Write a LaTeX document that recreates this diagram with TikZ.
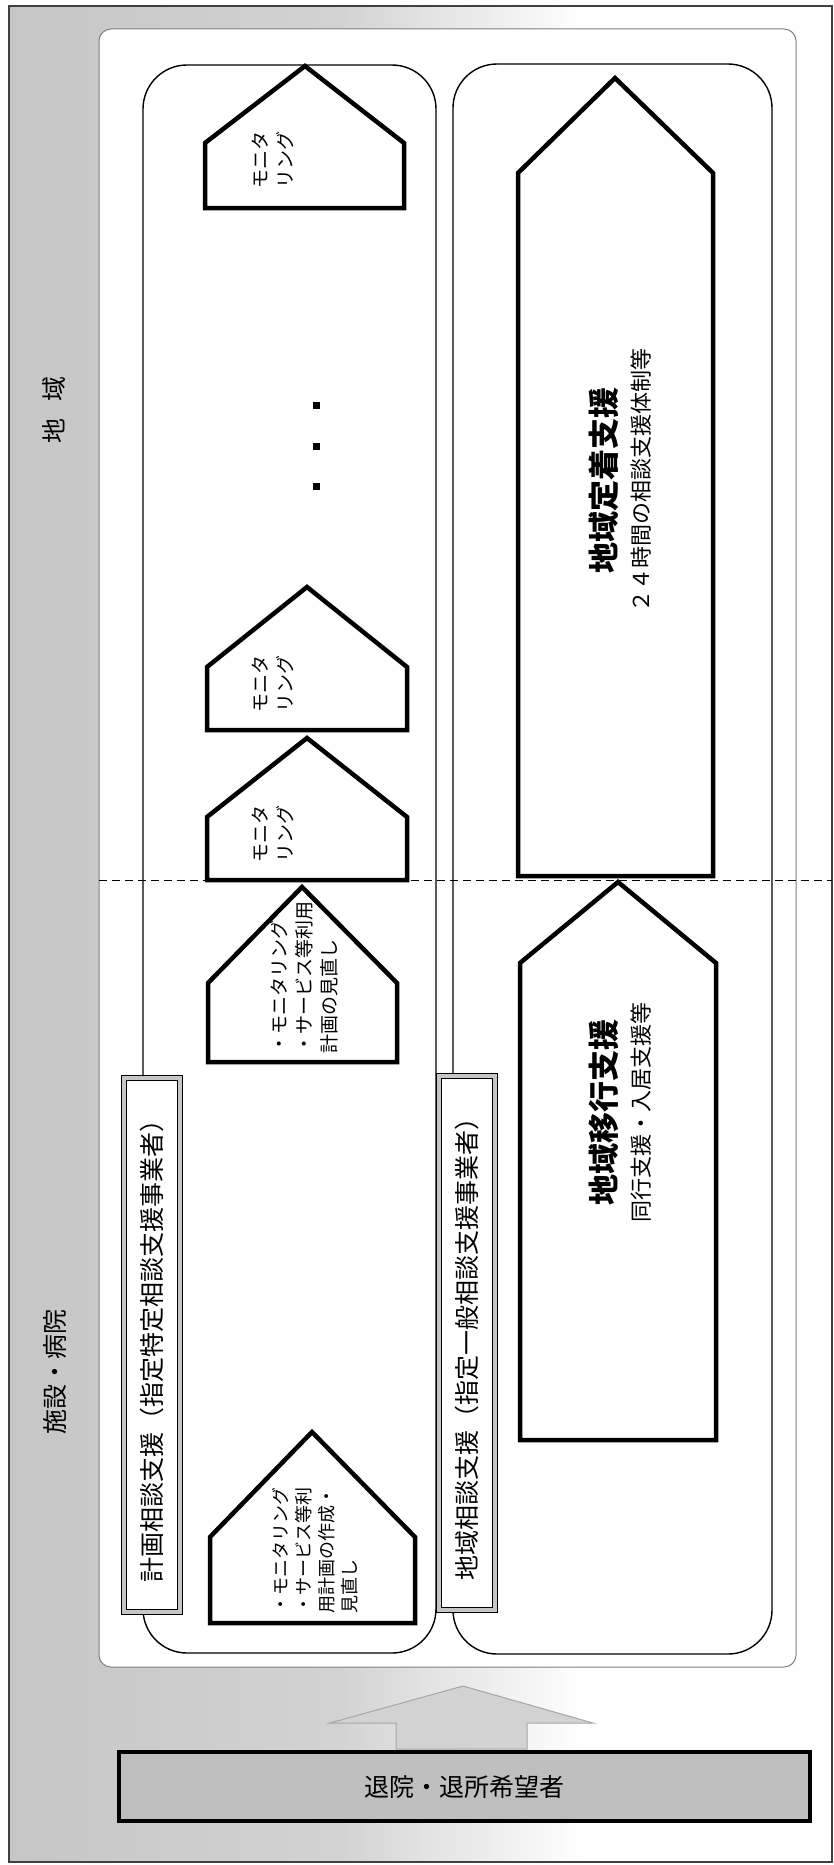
\documentclass[tikz,border=0pt]{standalone}
\usepackage{fontspec}
\setmainfont{Noto Sans CJK JP}
\usetikzlibrary{positioning}

\pgfdeclarehorizontalshading{fade}{100bp}{color(0bp)=(gray!45); color(25bp)=(gray!45); color(45bp)=(gray!35); color(60bp)=(white); color(100bp)=(white)}

\tikzset{
  lane/.style={draw, line width=1.4pt, rounded corners=44pt, fill=white},
  plate/.style={draw, line width=4.5pt, fill=white, line join=miter},
  tag/.style={draw, line width=1pt, double=gray!45, double distance=4pt, fill=white, rotate=90,
    minimum width=534pt, minimum height=56pt, font=\fontsize{25}{28}\selectfont},
  note/.style={rotate=90, align=left, font=\fontsize{19}{25}\selectfont},
  big/.style={rotate=90, align=center, font=\fontsize{22}{34}\selectfont},
  side/.style={rotate=90, font=\fontsize{25}{28}\selectfont},
  divider/.style={line width=1pt, dash pattern=on 8pt off 5pt},
}

\begin{document}
\begin{tikzpicture}[x=1pt,y=-1pt]
\useasboundingbox (0,0) rectangle (834,1865);

% background
\shadedraw[shading=fade, draw=black!75, line width=2pt] (9,6) rectangle (832,1862);
\node[draw=gray, line width=1pt, fill=white, rounded corners=12pt,
      minimum width=697pt, minimum height=1638pt] (region) at (447.5,848) {};

\node[side] (community) at (54,410) {地\hspace{0.7em}域};
\node[side] (facility) at (55,1372) {施設・病院};

% lanes
\node[lane, minimum width=293pt, minimum height=1588pt] (planlane) at (289.5,859) {};
\node[lane, minimum width=319pt, minimum height=1590pt] (arealane) at (612.5,859) {};

\draw[divider] (region.west |- 0,880) -- (832,880);

% plan lane
\draw[plate] (205,208) -- (205,143) -- (305,66) -- (404,143) -- (404,208) -- cycle;
\draw[plate] (207,730) -- (207,667) -- (307,587) -- (407,667) -- (407,730) -- cycle;
\draw[plate] (207,880) -- (207,817) -- (307,738) -- (407,817) -- (407,880) -- cycle;
\draw[plate] (208,1062) -- (208,983) -- (302,887) -- (397,983) -- (397,1062) -- cycle;
\draw[plate] (210,1623) -- (210,1537) -- (312,1432) -- (415,1537) -- (415,1623) -- cycle;

\node[note] (mon1) at (273,160) {モニタ\\リング};
\node[note] (mon2) at (273,684) {モニタ\\リング};
\node[note] (mon3) at (273,834) {モニタ\\リング};
\node[note, anchor=west] (review) at (304,1057) {・モニタリング\\・サービス等利用\\計画の見直し};
\node[note, anchor=west, font=\fontsize{18}{23}\selectfont] (draft) at (315,1617)
  {・モニタリング\\・サービス等利\\用計画の作成・\\見直し};

\foreach \y in {405,446,486}
  \node[fill, minimum size=7pt, inner sep=0pt] (dot\y) at (316,\y) {};

% area lane
\draw[plate] (518,876) -- (518,173) -- (615,78) -- (713,173) -- (713,876) -- cycle;
\draw[plate] (520,1440) -- (520,963) -- (618,882) -- (716,963) -- (716,1440) -- cycle;

\node[big] (settle) at (620,480) {{\fontsize{31}{34}\selectfont\bfseries 地域定着支援}\\２４時間の相談支援体制等};
\node[big] (move) at (620,1112) {{\fontsize{31}{34}\selectfont\bfseries 地域移行支援}\\同行支援・入居支援等};

\node[tag] (plantag) at (152,1345) {計画相談支援（指定特定相談支援事業者）};
\node[tag] (areatag) at (467,1343) {地域相談支援（指定一般相談支援事業者）};

% leaving
\node[draw, line width=4pt, fill=gray!50, minimum width=691pt, minimum height=69pt,
      font=\fontsize{25}{28}\selectfont] (exit) at (464.5,1786.5) {退院・退所希望者};
\draw[draw=gray!70, fill=gray!35, line width=1pt]
  (396,1749) -- (396,1723) -- (330,1723) -- (463,1686) -- (593,1723) -- (527,1723) -- (527,1749) -- cycle;

\end{tikzpicture}
\end{document}
